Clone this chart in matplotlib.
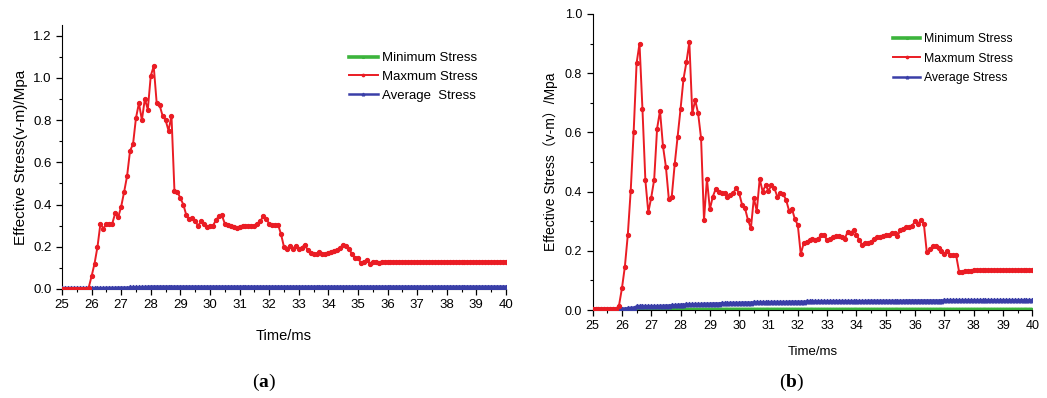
import numpy as np
import matplotlib.pyplot as plt

plt.rcParams['font.family'] = ['Liberation Sans', 'Noto Sans CJK SC', 'DejaVu Sans']

# sampling time, ms
time = np.round(np.arange(25.0, 40.05, 0.1), 1)

# (a) maximum / average / minimum stress, MPa
max_a = [
    0, 0, 0, 0, 0, 0, 0, 0, 0, 0.005,
    0.06, 0.12, 0.20, 0.31, 0.285, 0.31, 0.31, 0.31, 0.36, 0.34,
    0.39, 0.46, 0.535, 0.655, 0.685, 0.81, 0.88, 0.80, 0.90, 0.85,
    1.01, 1.055, 0.88, 0.87, 0.82, 0.80, 0.75, 0.82, 0.465, 0.46,
    0.43, 0.40, 0.35, 0.33, 0.335, 0.32, 0.30, 0.32, 0.31, 0.295,
    0.30, 0.30, 0.325, 0.345, 0.35, 0.31, 0.305, 0.30, 0.295, 0.29,
    0.295, 0.30, 0.30, 0.30, 0.30, 0.30, 0.31, 0.32, 0.345, 0.33,
    0.31, 0.305, 0.305, 0.305, 0.26, 0.20, 0.19, 0.205, 0.19, 0.205,
    0.19, 0.195, 0.21, 0.185, 0.17, 0.165, 0.165, 0.175, 0.165, 0.165,
    0.17, 0.175, 0.18, 0.185, 0.195, 0.21, 0.205, 0.19, 0.165, 0.145,
    0.145, 0.125, 0.13, 0.135, 0.12, 0.13, 0.13, 0.125, 0.13, 0.13,
    0.13, 0.13, 0.13, 0.13, 0.13, 0.13, 0.13, 0.13, 0.13, 0.13,
    0.13, 0.13, 0.13, 0.13, 0.13, 0.13, 0.13, 0.13, 0.13, 0.13,
    0.13, 0.13, 0.13, 0.13, 0.13, 0.13, 0.13, 0.13, 0.13, 0.13,
    0.13, 0.13, 0.13, 0.13, 0.13, 0.13, 0.13, 0.13, 0.13, 0.13,
    0.13,
]
avg_a = [
    0.003, 0.003, 0.003, 0.003, 0.003, 0.003, 0.003, 0.003, 0.003, 0.003,
    0.003, 0.003, 0.004, 0.004, 0.004, 0.005, 0.005, 0.005, 0.005, 0.006,
    0.006, 0.006, 0.006, 0.007, 0.007, 0.008, 0.008, 0.009, 0.009, 0.010,
    0.011, 0.011, 0.011, 0.011, 0.011, 0.011, 0.011, 0.011, 0.011, 0.011,
    0.011, 0.011, 0.011, 0.011, 0.011, 0.011, 0.011, 0.011, 0.011, 0.011,
    0.011, 0.011, 0.011, 0.011, 0.011, 0.011, 0.011, 0.011, 0.011, 0.011,
    0.011, 0.011, 0.011, 0.011, 0.011, 0.011, 0.011, 0.011, 0.011, 0.011,
    0.011, 0.011, 0.011, 0.011, 0.011, 0.011, 0.011, 0.011, 0.011, 0.011,
    0.011, 0.011, 0.011, 0.011, 0.011, 0.011, 0.011, 0.011, 0.011, 0.011,
    0.011, 0.011, 0.011, 0.011, 0.011, 0.011, 0.011, 0.011, 0.011, 0.011,
    0.011, 0.011, 0.011, 0.011, 0.011, 0.011, 0.011, 0.011, 0.011, 0.011,
    0.011, 0.011, 0.011, 0.011, 0.011, 0.011, 0.011, 0.011, 0.011, 0.011,
    0.011, 0.011, 0.011, 0.011, 0.011, 0.011, 0.011, 0.011, 0.011, 0.011,
    0.011, 0.011, 0.011, 0.011, 0.011, 0.011, 0.011, 0.011, 0.011, 0.011,
    0.011, 0.011, 0.011, 0.011, 0.011, 0.011, 0.011, 0.011, 0.011, 0.011,
    0.011,
]
min_a = [
    0, 0, 0, 0, 0, 0, 0, 0, 0, 0,
    0, 0, 0, 0, 0, 0, 0, 0, 0, 0,
    0, 0, 0, 0, 0, 0.001, 0.001, 0.001, 0.002, 0.002,
    0.002, 0.002, 0.002, 0.002, 0.002, 0.002, 0.002, 0.002, 0.002, 0.002,
    0.002, 0.002, 0.002, 0.002, 0.002, 0.002, 0.002, 0.002, 0.002, 0.002,
    0.002, 0.002, 0.002, 0.002, 0.002, 0.002, 0.002, 0.002, 0.002, 0.002,
    0.002, 0.002, 0.002, 0.002, 0.002, 0.002, 0.002, 0.002, 0.002, 0.002,
    0.002, 0.002, 0.002, 0.002, 0.002, 0.002, 0.002, 0.002, 0.002, 0.002,
    0.002, 0.002, 0.002, 0.002, 0.002, 0.002, 0.002, 0.002, 0.002, 0.002,
    0.002, 0.002, 0.002, 0.002, 0.002, 0.002, 0.002, 0.002, 0.002, 0.002,
    0.002, 0.002, 0.002, 0.002, 0.002, 0.002, 0.002, 0.002, 0.002, 0.002,
    0.002, 0.002, 0.002, 0.002, 0.002, 0.002, 0.002, 0.002, 0.002, 0.002,
    0.002, 0.002, 0.002, 0.002, 0.002, 0.002, 0.002, 0.002, 0.002, 0.002,
    0.002, 0.002, 0.002, 0.002, 0.002, 0.002, 0.002, 0.002, 0.002, 0.002,
    0.002, 0.002, 0.002, 0.002, 0.002, 0.002, 0.002, 0.002, 0.002, 0.002,
    0.002,
]

# (b)
max_b = [
    0.003, 0.003, 0.003, 0.003, 0.003, 0.003, 0.003, 0.003, 0.003, 0.015,
    0.073, 0.146, 0.253, 0.403, 0.60, 0.833, 0.90, 0.68, 0.438, 0.33,
    0.38, 0.44, 0.613, 0.673, 0.554, 0.484, 0.375, 0.383, 0.492, 0.586,
    0.679, 0.78, 0.837, 0.905, 0.664, 0.709, 0.664, 0.58, 0.304, 0.443,
    0.34, 0.383, 0.409, 0.397, 0.396, 0.394, 0.383, 0.389, 0.396, 0.411,
    0.394, 0.355, 0.343, 0.304, 0.276, 0.378, 0.334, 0.443, 0.40, 0.421,
    0.403, 0.421, 0.412, 0.383, 0.394, 0.392, 0.372, 0.336, 0.342, 0.307,
    0.287, 0.189, 0.225, 0.23, 0.235, 0.24, 0.235, 0.24, 0.255, 0.255,
    0.235, 0.24, 0.245, 0.25, 0.25, 0.245, 0.24, 0.265, 0.26, 0.27,
    0.255, 0.235, 0.22, 0.225, 0.225, 0.23, 0.24, 0.245, 0.245, 0.25,
    0.255, 0.255, 0.26, 0.26, 0.25, 0.27, 0.275, 0.28, 0.28, 0.285,
    0.30, 0.29, 0.305, 0.29, 0.195, 0.205, 0.215, 0.215, 0.21, 0.20,
    0.19, 0.20, 0.185, 0.185, 0.185, 0.13, 0.13, 0.132, 0.133, 0.133,
    0.134, 0.135, 0.135, 0.135, 0.135, 0.135, 0.135, 0.135, 0.135, 0.135,
    0.135, 0.135, 0.135, 0.135, 0.135, 0.135, 0.135, 0.135, 0.135, 0.135,
    0.135,
]
avg_b = [
    0.004, 0.004, 0.004, 0.004, 0.004, 0.004, 0.004, 0.004, 0.004, 0.004,
    0.005, 0.005, 0.006, 0.007, 0.008, 0.012, 0.013, 0.013, 0.013, 0.013,
    0.013, 0.013, 0.013, 0.014, 0.014, 0.015, 0.015, 0.016, 0.016, 0.017,
    0.018, 0.018, 0.019, 0.019, 0.019, 0.020, 0.020, 0.020, 0.021, 0.021,
    0.021, 0.022, 0.022, 0.022, 0.023, 0.023, 0.023, 0.024, 0.024, 0.024,
    0.024, 0.025, 0.025, 0.025, 0.025, 0.026, 0.026, 0.026, 0.026, 0.026,
    0.026, 0.027, 0.027, 0.027, 0.027, 0.027, 0.027, 0.028, 0.028, 0.028,
    0.028, 0.028, 0.028, 0.029, 0.029, 0.029, 0.029, 0.029, 0.029, 0.029,
    0.029, 0.030, 0.030, 0.030, 0.030, 0.030, 0.030, 0.030, 0.030, 0.030,
    0.030, 0.030, 0.030, 0.030, 0.031, 0.031, 0.031, 0.031, 0.031, 0.031,
    0.031, 0.031, 0.031, 0.031, 0.031, 0.031, 0.031, 0.032, 0.032, 0.032,
    0.032, 0.032, 0.032, 0.032, 0.032, 0.032, 0.032, 0.032, 0.032, 0.032,
    0.033, 0.033, 0.033, 0.033, 0.033, 0.033, 0.033, 0.033, 0.033, 0.033,
    0.033, 0.033, 0.033, 0.033, 0.033, 0.033, 0.033, 0.033, 0.033, 0.033,
    0.033, 0.033, 0.033, 0.033, 0.033, 0.033, 0.033, 0.033, 0.033, 0.033,
    0.033,
]
min_b = [
    0, 0, 0, 0, 0, 0, 0, 0, 0, 0,
    0, 0, 0, 0, 0, 0.002, 0.002, 0.002, 0.002, 0.002,
    0.002, 0.002, 0.002, 0.002, 0.002, 0.002, 0.002, 0.002, 0.002, 0.002,
    0.002, 0.002, 0.002, 0.002, 0.002, 0.002, 0.002, 0.002, 0.002, 0.002,
    0.002, 0.002, 0.002, 0.002, 0.002, 0.002, 0.002, 0.002, 0.002, 0.002,
    0.002, 0.002, 0.002, 0.002, 0.002, 0.002, 0.002, 0.002, 0.002, 0.002,
    0.002, 0.002, 0.002, 0.002, 0.002, 0.002, 0.002, 0.002, 0.002, 0.002,
    0.002, 0.002, 0.002, 0.002, 0.002, 0.002, 0.002, 0.002, 0.002, 0.002,
    0.002, 0.002, 0.002, 0.002, 0.002, 0.002, 0.002, 0.002, 0.002, 0.002,
    0.002, 0.002, 0.002, 0.002, 0.002, 0.002, 0.002, 0.002, 0.002, 0.002,
    0.002, 0.002, 0.002, 0.002, 0.002, 0.002, 0.002, 0.002, 0.002, 0.002,
    0.002, 0.002, 0.002, 0.002, 0.002, 0.002, 0.002, 0.002, 0.002, 0.002,
    0.002, 0.002, 0.002, 0.002, 0.002, 0.002, 0.002, 0.002, 0.002, 0.002,
    0.002, 0.002, 0.002, 0.002, 0.002, 0.002, 0.002, 0.002, 0.002, 0.002,
    0.002, 0.002, 0.002, 0.002, 0.002, 0.002, 0.002, 0.002, 0.002, 0.002,
    0.002,
]

labels_a = ['Minimum Stress', 'Maxmum Stress', 'Average  Stress']
labels_b = ['Minimum Stress', 'Maxmum Stress', 'Average Stress']
ylabel_a = 'Effective Stress(v-m)/Mpa'
ylabel_b = 'Effective Stress\uff08v-m\uff09/Mpa'

GREEN = '#3cb43c'
RED = '#ea1c24'
BLUE = '#3a3fa8'

fig = plt.figure(figsize=(10.47, 3.98), dpi=100)
ax_a = fig.add_axes([0.0592, 0.274, 0.424, 0.663])
ax_b = fig.add_axes([0.566, 0.221, 0.420, 0.744])


def draw(ax, mn, mx, av, fs):
    h1, = ax.plot(time, mn, color=GREEN, lw=2.6, marker='s', ms=2, zorder=2)
    h2, = ax.plot(time, mx, color=RED, lw=1.4, marker='o', ms=2.8, zorder=4)
    h3, = ax.plot(time, av, color=BLUE, lw=1.8, marker='^', ms=3.2, zorder=3)
    for side in ['top', 'right']:
        ax.spines[side].set_visible(False)
    ax.set_xlim(25, 40)
    ax.set_xticks(range(25, 41))
    ax.set_xticks(np.arange(25, 40.01, 0.5), minor=True)
    ax.tick_params(which='major', direction='out', length=4, width=0.9, labelsize=fs)
    ax.tick_params(which='minor', direction='out', length=2.5, width=0.8)
    return [h1, h2, h3]


hs = draw(ax_a, min_a, max_a, avg_a, 9.5)
ax_a.set_ylim(0, 1.25)
ax_a.set_yticks(np.arange(0, 1.21, 0.2))
ax_a.set_yticks(np.arange(0, 1.25, 0.1), minor=True)
ax_a.yaxis.set_major_formatter(plt.FormatStrFormatter('%.1f'))
ax_a.set_ylabel(ylabel_a, fontsize=11, labelpad=4)
ax_a.set_xlabel('Time/ms', fontsize=10.5, labelpad=13)
ax_a.legend(hs, labels_a, loc='upper left', bbox_to_anchor=(0.619, 0.943),
            frameon=False, fontsize=9.5, handlelength=2.2, handletextpad=0.3,
            labelspacing=0.5, markerscale=0.6)

hs = draw(ax_b, min_b, max_b, avg_b, 9)
ax_b.set_ylim(0, 1.0)
ax_b.set_yticks(np.arange(0, 1.01, 0.2))
ax_b.set_yticks(np.arange(0, 1.01, 0.1), minor=True)
ax_b.yaxis.set_major_formatter(plt.FormatStrFormatter('%.1f'))
ax_b.set_ylabel(ylabel_b, fontsize=10, labelpad=5)
ax_b.set_xlabel('Time/ms', fontsize=9.5, labelpad=10)
ax_b.legend(hs, labels_b, loc='upper left', bbox_to_anchor=(0.659, 0.973),
            frameon=False, fontsize=8.8, handlelength=2.2, handletextpad=0.3,
            labelspacing=0.62, markerscale=0.6)

plt.rcParams['mathtext.fontset'] = 'custom'
plt.rcParams['mathtext.bf'] = 'Liberation Serif:bold'
plt.rcParams['mathtext.rm'] = 'Liberation Serif'
fig.text(0.252, 0.040, r'($\mathbf{a}$)', ha='center', va='center',
         fontsize=14, family='Liberation Serif')
fig.text(0.756, 0.040, r'($\mathbf{b}$)', ha='center', va='center',
         fontsize=14, family='Liberation Serif')

fig.savefig('out.png', dpi=100)
